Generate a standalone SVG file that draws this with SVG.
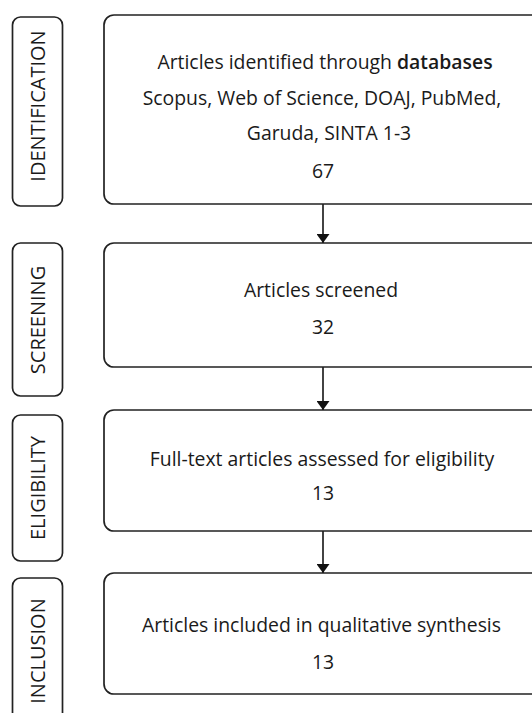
<svg xmlns="http://www.w3.org/2000/svg" width="532" height="713" viewBox="0 0 532 713">
  <style>
    .box { fill: #ffffff; stroke: #222222; stroke-width: 1.7; }
    .side { fill: #ffffff; stroke: #222222; stroke-width: 1.7; }
    .t { font-family: "Open Sans", "Noto Sans", sans-serif; font-size: 19.4px; font-weight: 500; fill: #1a1a1a; text-anchor: middle; }
    .s { font-family: "Open Sans", "Noto Sans", sans-serif; font-size: 20px; font-weight: 500; fill: #1a1a1a; text-anchor: middle; }
    .conn { stroke: #222222; stroke-width: 1.7; fill: none; }
  </style>
  <defs>
    <marker id="arrow" viewBox="0 0 9 13" refX="9" refY="6.5" markerWidth="9" markerHeight="13" orient="auto" markerUnits="userSpaceOnUse">
      <path d="M0,0 L9,6.5 L0,13 Z" fill="#111111"/>
    </marker>
  </defs>
  <rect width="532" height="713" fill="#ffffff"/>

  <g id="side-identification">
    <rect class="side" x="12.5" y="17" width="50" height="189" rx="8"/>
    <text class="s" transform="translate(44.5,106) rotate(-90)">IDENTIFICATION</text>
  </g>
  <g id="side-screening">
    <rect class="side" x="12.5" y="243" width="50" height="153" rx="8"/>
    <text class="s" transform="translate(44.5,320) rotate(-90)">SCREENING</text>
  </g>
  <g id="side-eligibility">
    <rect class="side" x="12.5" y="415" width="50" height="146" rx="8"/>
    <text class="s" transform="translate(44.5,488) rotate(-90)">ELIGIBILITY</text>
  </g>
  <g id="side-inclusion">
    <rect class="side" x="12.5" y="578" width="50" height="150" rx="8"/>
    <text class="s" transform="translate(44.5,651) rotate(-90)">INCLUSION</text>
  </g>

  <g id="identification">
    <rect class="box" x="104" y="15" width="440" height="189" rx="10"/>
    <text class="t" x="325" y="69">Articles identified through <tspan font-weight="600">databases</tspan></text>
    <text class="t" x="322" y="105">Scopus, Web of Science, DOAJ, PubMed,</text>
    <text class="t" x="329" y="140">Garuda, SINTA 1-3</text>
    <text class="t" x="323" y="178">67</text>
  </g>
  <g id="screening">
    <rect class="box" x="104" y="243" width="440" height="124" rx="10"/>
    <text class="t" x="321" y="297">Articles screened</text>
    <text class="t" x="323" y="334">32</text>
  </g>
  <g id="eligibility">
    <rect class="box" x="104" y="410" width="440" height="121" rx="10"/>
    <text class="t" x="322" y="466">Full-text articles assessed for eligibility</text>
    <text class="t" x="323" y="500">13</text>
  </g>
  <g id="inclusion">
    <rect class="box" x="104" y="573" width="440" height="121" rx="10"/>
    <text class="t" x="321.5" y="632">Articles included in qualitative synthesis</text>
    <text class="t" x="323" y="669">13</text>
  </g>

  <g id="connectors">
    <line class="conn" x1="323" y1="204" x2="323" y2="243" marker-end="url(#arrow)"/>
    <line class="conn" x1="323" y1="367" x2="323" y2="410" marker-end="url(#arrow)"/>
    <line class="conn" x1="323" y1="531" x2="323" y2="573" marker-end="url(#arrow)"/>
  </g>
</svg>
